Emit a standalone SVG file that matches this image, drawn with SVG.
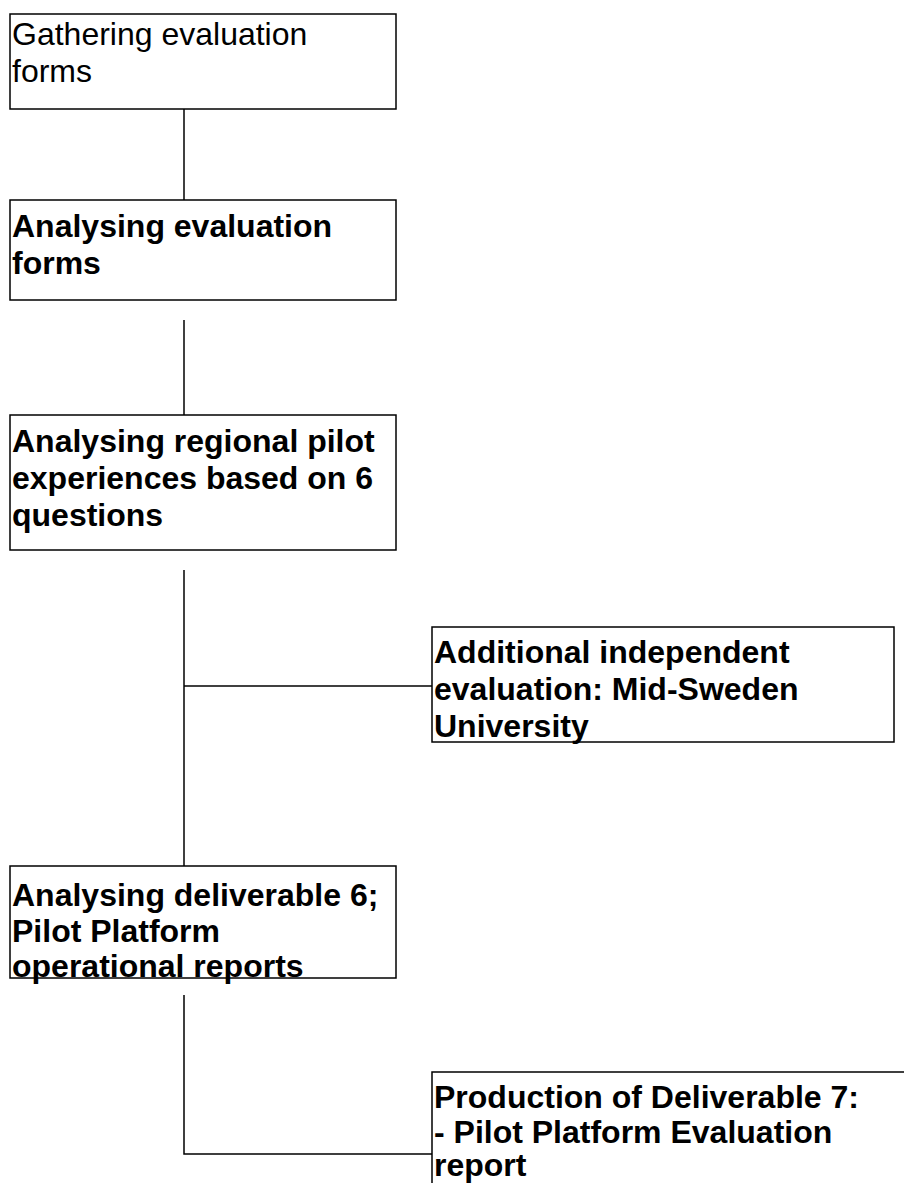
<svg xmlns="http://www.w3.org/2000/svg" width="904" height="1183" viewBox="0 0 904 1183">
<style>
.box{fill:#fff;stroke:#000;stroke-width:1.5}
.con{fill:none;stroke:#000;stroke-width:1.5}
.t{font-family:"Liberation Sans",Arial,sans-serif;font-size:32px;fill:#000}
.b{font-weight:bold}
</style>
<rect width="904" height="1183" fill="#fff"/>
<g id="connectors">
<line class="con" x1="184" y1="109" x2="184" y2="200"/>
<line class="con" x1="184" y1="320" x2="184" y2="415"/>
<line class="con" x1="184" y1="570" x2="184" y2="866"/>
<line class="con" x1="184" y1="686" x2="432" y2="686"/>
<polyline class="con" points="184,995 184,1154 432,1154"/>
</g>
<g id="n1">
<rect class="box" x="10" y="14" width="386" height="95"/>
<text class="t" x="12" y="45">Gathering evaluation</text>
<text class="t" x="12" y="82">forms</text>
</g>
<g id="n2">
<rect class="box" x="10" y="200" width="386" height="100"/>
<text class="t b" x="12" y="237">Analysing evaluation</text>
<text class="t b" x="12" y="274">forms</text>
</g>
<g id="n3">
<rect class="box" x="10" y="415" width="386" height="135"/>
<text class="t b" x="12" y="452">Analysing regional pilot</text>
<text class="t b" x="12" y="489">experiences based on 6</text>
<text class="t b" x="12" y="526">questions</text>
</g>
<g id="n4">
<rect class="box" x="432" y="627" width="462" height="115"/>
<text class="t b" x="434" y="663">Additional independent</text>
<text class="t b" x="434" y="700">evaluation: Mid-Sweden</text>
<text class="t b" x="434" y="737">University</text>
</g>
<g id="n5">
<rect class="box" x="10" y="866" width="386" height="112"/>
<text class="t b" x="12" y="906">Analysing deliverable 6;</text>
<text class="t b" x="12" y="942">Pilot Platform</text>
<text class="t b" x="12" y="977">operational reports</text>
</g>
<g id="n6">
<rect class="box" x="432" y="1072" width="480" height="130"/>
<text class="t b" x="434" y="1108">Production of Deliverable 7:</text>
<text class="t b" x="434" y="1143">- Pilot Platform Evaluation</text>
<text class="t b" x="434" y="1176">report</text>
</g>
</svg>
